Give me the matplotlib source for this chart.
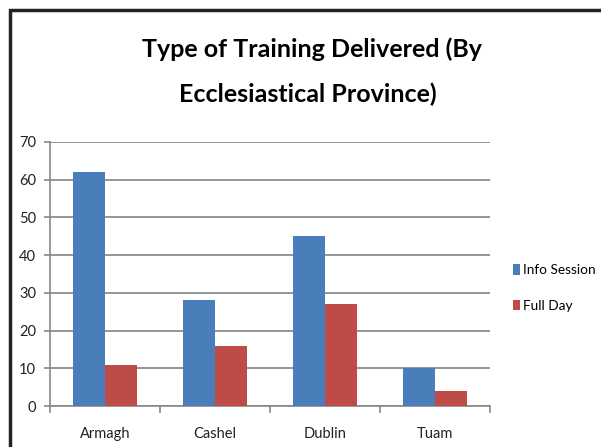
import numpy as np
import matplotlib.pyplot as plt
from matplotlib.patches import Rectangle

provinces = ["Armagh", "Cashel", "Dublin", "Tuam"]
info_session = [62, 28, 45, 10]
full_day = [11, 16, 27, 4]
series_names = ["Info Session", "Full Day"]

plt.rcParams['font.family'] = ['Lato', 'DejaVu Sans']

fig = plt.figure(figsize=(6.01, 4.47), dpi=100)
W, H = 601, 447
ax = fig.add_axes([50 / W, 1 - 406 / H, 440 / W, (406 - 142) / H])

x = np.arange(len(provinces))
w = 0.29
ax.bar(x - w / 2, info_session, w, color="#4a7ebb", label=series_names[0], zorder=3)
ax.bar(x + w / 2, full_day, w, color="#be4b48", label=series_names[1], zorder=3)

ax.set_xlim(-0.5, 3.5)
ax.set_ylim(0, 70)
ax.set_yticks(range(0, 71, 10))
ax.set_xticks(x)
ax.set_xticklabels(provinces)
ax.set_xticks(np.arange(-0.5, 4, 1), minor=True)
ax.tick_params(axis="x", which="major", length=0, pad=15, labelsize=10.5, labelcolor="#222222")
ax.tick_params(axis="x", which="minor", length=5, color="#888888", width=1.2)
ax.tick_params(axis="y", length=4, color="#888888", width=1.2, labelsize=10.5, pad=6,
               labelcolor="#222222")
ax.grid(axis="y", color="#8c8c8c", linewidth=1.3, zorder=0)
for s in ["top", "right"]:
    ax.spines[s].set_visible(False)
ax.spines["left"].set_color("#888888")
ax.spines["bottom"].set_color("#888888")
ax.spines["left"].set_linewidth(1.2)
ax.spines["bottom"].set_linewidth(1.2)

ax.legend(loc="center left", bbox_to_anchor=(513 / W, 1 - 288 / H), bbox_transform=fig.transFigure,
          frameon=False, fontsize=9.8, handlelength=0.55, handleheight=0.8, handletextpad=0.2,
          labelspacing=1.7, borderpad=0, borderaxespad=0)

fig.text(312 / W, 1 - 49 / H, "Type of Training Delivered (By", ha="center", va="center",
         fontsize=18, fontweight="bold")
fig.text(308 / W, 1 - 94 / H, "Ecclesiastical Province)", ha="center", va="center",
         fontsize=18, fontweight="bold")

fig.patches.append(Rectangle((10 / W, -0.1), 1.2, 1 - 10 / H + 0.1, transform=fig.transFigure,
                             fill=False, edgecolor="#222222", linewidth=2.5))

fig.savefig("out.png", dpi=100)
